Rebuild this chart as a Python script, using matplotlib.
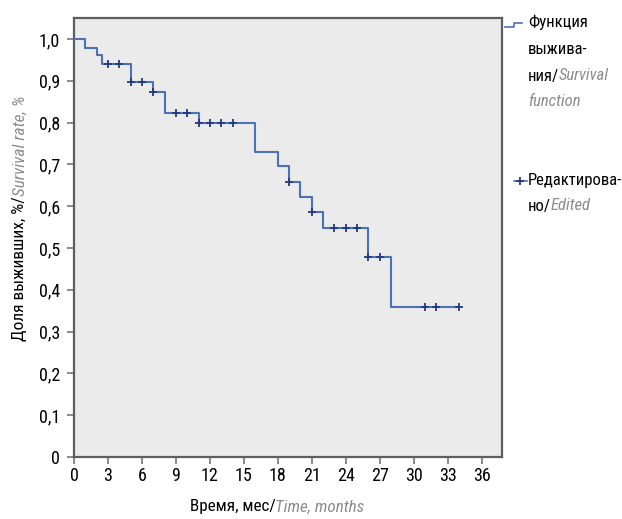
import numpy as np
import matplotlib
matplotlib.use("Agg")
import matplotlib.pyplot as plt
from matplotlib.transforms import IdentityTransform

plt.rcParams.update({
    "font.family": ["Roboto Condensed", "Liberation Sans Narrow", "Roboto", "DejaVu Sans"],
    "font.size": 10.5,
})

# Kaplan-Meier steps
event_times = [0, 1, 2, 2.5, 5, 7, 8, 11, 16, 18, 19, 20, 21, 22, 26, 28]
survival = [1.0, 0.979, 0.961, 0.941, 0.896, 0.873, 0.823, 0.799, 0.729,
            0.695, 0.658, 0.622, 0.587, 0.547, 0.479, 0.359]
last_time = 34
censored_times = [3, 4, 5, 6, 7, 9, 10, 11, 12, 13, 14, 19, 21, 23, 24, 25,
                  26, 27, 31, 32, 34]

x_ticks = list(range(0, 37, 3))
y_ticks = [0, 0.1, 0.2, 0.3, 0.4, 0.5, 0.6, 0.7, 0.8, 0.9, 1.0]
y_tick_labels = ["0", "0,1", "0,2", "0,3", "0,4", "0,5", "0,6", "0,7",
                 "0,8", "0,9", "1,0"]

COL_LINE = "#4c72b6"
COL_CENS = "#24397a"
COL_BG = "#ebebeb"
COL_FRAME = "#5e5e5e"
COL_GRAY = "#8c8c8c"

W, H = 622, 519
fig = plt.figure(figsize=(W / 100, H / 100), dpi=100)
ax = fig.add_axes([74 / W, (H - 457) / H, 428 / W, (457 - 18) / H])
ax.set_facecolor(COL_BG)

xs = list(event_times) + [last_time]
ys = list(survival) + [survival[-1]]
ax.step(xs, ys, where="post", color=COL_LINE, linewidth=1.5, zorder=3)

idx = np.searchsorted(event_times, censored_times, side="right") - 1
cens_y = np.array(survival)[idx]
ax.plot(censored_times, cens_y, linestyle="none", marker="+",
        markersize=6, markeredgewidth=1.3, color=COL_CENS, zorder=4)

ax.set_xlim(0, 37.8)
ax.set_ylim(0, 1.05)
ax.set_xticks(x_ticks)
ax.set_yticks(y_ticks)
ax.set_yticklabels(y_tick_labels)
ax.tick_params(axis="both", direction="out", length=5, width=1.2,
               color="#777777", labelsize=13, pad=2)
ax.tick_params(axis="y", pad=5)
for sp in ax.spines.values():
    sp.set_color(COL_FRAME)
    sp.set_linewidth(1.6)

renderer = fig.canvas.get_renderer()


def put_pieces(x, y, pieces, rotation=0, center=True, size=12):
    # pieces drawn in a row (or a column when rotated); x, y in image pixels
    texts = []
    for s, gray in pieces:
        kw = dict(color=COL_GRAY, style="italic") if gray else dict(color="black")
        t = fig.text(0, 0, s, transform=IdentityTransform(), fontsize=size,
                     rotation=rotation, **kw)
        texts.append(t)
    sizes = []
    for t in texts:
        bb = t.get_window_extent(renderer)
        sizes.append(bb.height if rotation else bb.width)
    total = sum(sizes)
    pos = -total / 2 if center else 0
    yd = H - y
    for t, sz in zip(texts, sizes):
        if rotation:
            t.set_position((x, yd + pos))
            t.set_ha("center")
            t.set_va("bottom")
        else:
            t.set_position((x + pos, yd))
            t.set_ha("left")
            t.set_va("center")
        pos += sz


put_pieces(20, 218, [("Доля выживших, %/", False), ("Survival rate, %", True)],
           rotation=90, size=12.5)
put_pieces(277, 507, [("Время, мес/", False), ("Time, months", True)], size=12.3)

# legend outside the axes
lx = 528
leg_size = 12
put_pieces(lx, 22, [("Функция", False)], center=False, size=leg_size)
put_pieces(lx, 49, [("выжива-", False)], center=False, size=leg_size)
put_pieces(lx, 76, [("ния/", False), ("Survival", True)], center=False, size=leg_size)
put_pieces(lx, 102, [("function", True)], center=False, size=leg_size)
put_pieces(lx, 180, [("Редактирова-", False)], center=False, size=leg_size)
put_pieces(lx, 206, [("но/", False), ("Edited", True)], center=False, size=leg_size)

fig.lines.append(plt.Line2D([505, 514, 514, 522], [H - 27, H - 27, H - 23, H - 23],
                            transform=IdentityTransform(), color=COL_LINE,
                            linewidth=1.2))
fig.lines.append(plt.Line2D([514, 527], [H - 181, H - 181],
                            transform=IdentityTransform(), color=COL_LINE,
                            linewidth=1.2))
fig.lines.append(plt.Line2D([520], [H - 181], transform=IdentityTransform(),
                            marker="+", markersize=6, markeredgewidth=1.3,
                            color=COL_CENS, linestyle="none"))

fig.savefig("out.png", dpi=100)
